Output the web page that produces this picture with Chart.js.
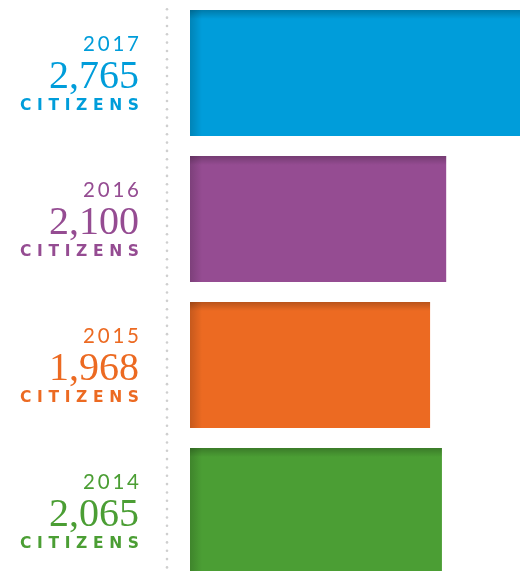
<!DOCTYPE html>
<html>
<head>
<meta charset="utf-8">
<script src="https://cdn.jsdelivr.net/npm/chart.js@4/dist/chart.umd.min.js"></script>
<style>
  html, body { margin: 0; padding: 0; background: #fff; overflow: hidden; }
  #wrap { width: 520px; height: 571px; overflow: hidden; }
  canvas { display: block; }
</style>
</head>
<body>
<div id="wrap"><canvas id="c" width="520" height="584"></canvas></div>
<script>
const years = ['2017', '2016', '2015', '2014'];
const citizens = [2765, 2100, 1968, 2065];
const unitLabel = 'CITIZENS';
const colors = ['#009DDA', '#954C92', '#EC6A22', '#4B9E34'];
const xMax = 2705;

function drawFit(ctx, text, rightX, y, targetWidth) {
  const chars = text.split('');
  const widths = chars.map(c => ctx.measureText(c).width);
  const raw = widths.reduce((a, b) => a + b, 0);
  const spacing = chars.length > 1 ? Math.max(0, (targetWidth - raw) / (chars.length - 1)) : 0;
  const total = raw + spacing * (chars.length - 1);
  let x = rightX - total;
  ctx.textAlign = 'left';
  chars.forEach((c, i) => { ctx.fillText(c, x, y); x += widths[i] + spacing; });
}

const decorPlugin = {
  id: 'decor',
  beforeDatasetsDraw(chart) {
    const ctx = chart.ctx;
    ctx.save();
    ctx.fillStyle = '#cfcfcf';
    for (let y = 9.3; y < chart.height; y += 8.33) {
      ctx.beginPath();
      ctx.arc(167, y, 1.3, 0, Math.PI * 2);
      ctx.fill();
    }
    ctx.restore();
  },
  afterDatasetsDraw(chart) {
    const ctx = chart.ctx;
    const area = chart.chartArea;
    const meta = chart.getDatasetMeta(0);
    ctx.save();
    ctx.beginPath();
    ctx.rect(area.left, area.top, area.right - area.left, area.bottom - area.top);
    ctx.clip();
    meta.data.forEach(bar => {
      const left = Math.min(bar.base, bar.x);
      const right = Math.min(Math.max(bar.base, bar.x), area.right);
      const top = bar.y - bar.height / 2;
      const bottom = bar.y + bar.height / 2;
      let g = ctx.createLinearGradient(0, top, 0, top + 9);
      g.addColorStop(0, 'rgba(0,0,0,0.22)');
      g.addColorStop(1, 'rgba(0,0,0,0)');
      ctx.fillStyle = g;
      ctx.fillRect(left, top, right - left, 9);
      g = ctx.createLinearGradient(left, 0, left + 12, 0);
      g.addColorStop(0, 'rgba(0,0,0,0.16)');
      g.addColorStop(1, 'rgba(0,0,0,0)');
      ctx.fillStyle = g;
      ctx.fillRect(left, top, 12, bottom - top);
    });
    ctx.restore();
  },
  afterDraw(chart) {
    const ctx = chart.ctx;
    const yScale = chart.scales.y;
    const labels = chart.data.labels;
    const values = chart.data.datasets[0].data;
    const rightX = 139;
    ctx.save();
    ctx.textBaseline = 'alphabetic';
    labels.forEach((lab, i) => {
      const cy = yScale.getPixelForValue(i);
      ctx.fillStyle = colors[i];
      ctx.font = '400 20.5px Lato';
      drawFit(ctx, lab, rightX, cy - 22, 56);
      ctx.font = '400 40px "Liberation Serif"';
      drawFit(ctx, values[i].toLocaleString('en-US'), rightX, cy + 15, 0);
      ctx.font = '700 15.5px "DejaVu Sans"';
      drawFit(ctx, unitLabel, rightX, cy + 37, 119);
    });
    ctx.restore();
  }
};

new Chart(document.getElementById('c'), {
  type: 'bar',
  data: {
    labels: years,
    datasets: [{
      data: citizens,
      backgroundColor: colors,
      borderWidth: 0,
      barPercentage: 126 / 146,
      categoryPercentage: 1
    }]
  },
  options: {
    indexAxis: 'y',
    responsive: false,
    animation: false,
    layout: { padding: { left: 190, right: 0, top: 0, bottom: 0 } },
    plugins: { legend: { display: false }, tooltip: { enabled: false } },
    scales: {
      x: { display: false, min: 0, max: xMax },
      y: { display: false }
    }
  },
  plugins: [decorPlugin]
});
</script>
</body>
</html>
